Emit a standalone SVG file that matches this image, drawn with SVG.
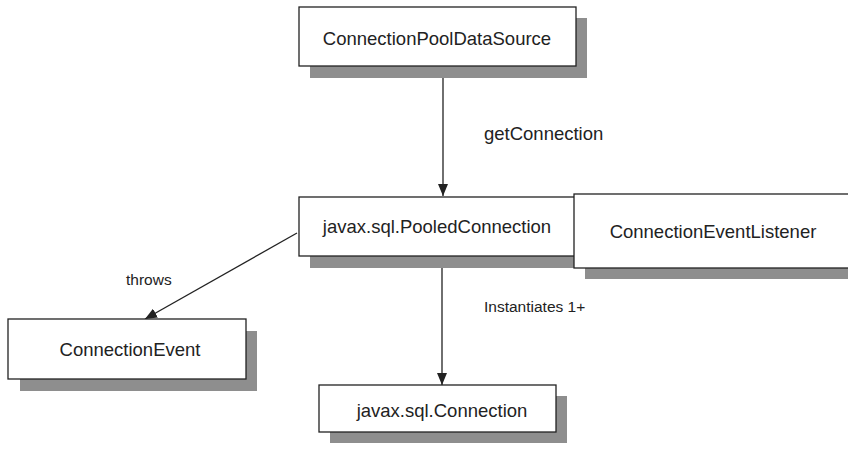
<svg xmlns="http://www.w3.org/2000/svg" width="848" height="452" viewBox="0 0 848 452">
<style>
.box{fill:#fff;stroke:#222;stroke-width:1.3}
.sh{fill:#8e8e8e}
.t{font-family:"Liberation Sans",Arial,sans-serif;font-size:18.5px;fill:#222;text-anchor:middle}
.l{font-family:"Liberation Sans",Arial,sans-serif;fill:#222}
.c{stroke:#222;stroke-width:1.3;fill:none}
</style>
<defs>
<marker id="ah" viewBox="0 0 12 10" refX="12" refY="5" markerWidth="12" markerHeight="10" markerUnits="userSpaceOnUse" orient="auto">
<path d="M0,0 L12,5 L0,10 Z" fill="#222"/>
</marker>
</defs>
<rect width="848" height="452" fill="#fff"/>
<g id="connectors">
<line class="c" x1="443" y1="66" x2="443" y2="196" marker-end="url(#ah)"/>
<line class="c" x1="297" y1="233" x2="145" y2="319" marker-end="url(#ah)"/>
<line class="c" x1="442" y1="256" x2="442" y2="385" marker-end="url(#ah)"/>
<text class="l" x="484" y="140" font-size="18.5">getConnection</text>
<text class="l" x="126" y="285" font-size="15.5">throws</text>
<text class="l" x="484" y="312" font-size="15.5">Instantiates 1+</text>
</g>
<g id="ConnectionPoolDataSource">
<rect class="sh" x="310" y="18" width="277" height="60"/>
<rect class="box" x="299" y="7" width="277" height="59"/>
<text class="t" x="437" y="45">ConnectionPoolDataSource</text>
</g>
<g id="PooledConnection">
<rect class="sh" x="310" y="208" width="280" height="60"/>
<rect class="box" x="299" y="197" width="280" height="59"/>
<text class="t" x="437" y="233">javax.sql.PooledConnection</text>
</g>
<g id="ConnectionEventListener">
<rect class="sh" x="585" y="205" width="280" height="74"/>
<rect class="box" x="574" y="194" width="280" height="74"/>
<text class="t" x="713" y="238">ConnectionEventListener</text>
</g>
<g id="ConnectionEvent">
<rect class="sh" x="20" y="331" width="237" height="60"/>
<rect class="box" x="8" y="319" width="238" height="60"/>
<text class="t" x="130" y="356">ConnectionEvent</text>
</g>
<g id="Connection">
<rect class="sh" x="330" y="396" width="237" height="47"/>
<rect class="box" x="319" y="385" width="237" height="47"/>
<text class="t" x="442" y="417">javax.sql.Connection</text>
</g>
</svg>
